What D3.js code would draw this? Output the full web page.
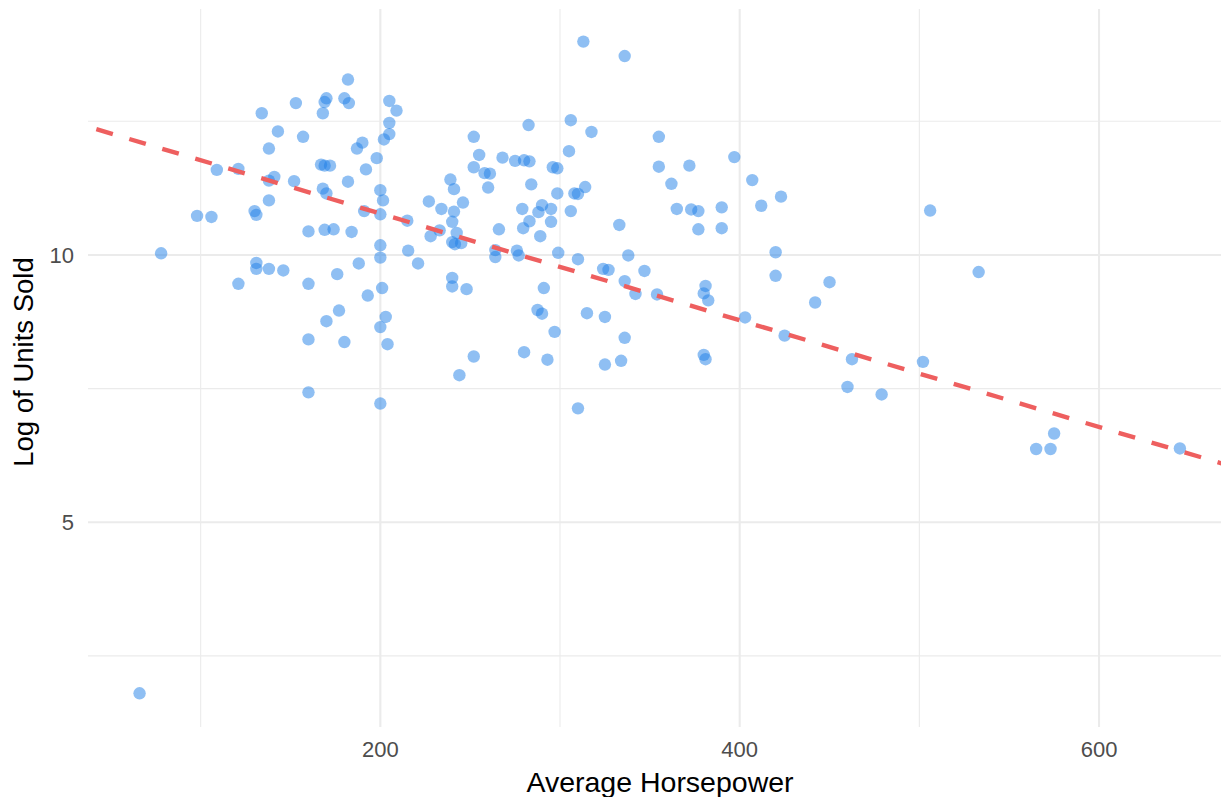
<!DOCTYPE html>
<html>
<head>
<meta charset="utf-8">
<script src="https://cdn.jsdelivr.net/npm/d3@7"></script>
<style>
  body { margin: 0; background: #fff; }
  text { font-family: "Liberation Sans", Arial, sans-serif; }
</style>
</head>
<body>
<div id="wrapper"></div>
<script>
// horsepower / log(units sold) pairs
var horsepower = [
    134, 153, 168, 170, 169, 143, 157, 138, 109, 121, 138, 141, 152, 167, 169, 172, 168, 170, 138, 130,
    131, 98, 106, 160, 169, 174, 78, 131, 131, 138, 146, 121, 160, 170, 160, 160, 66,
    182, 180, 182.5, 205, 209, 205, 205, 202, 190, 187, 198, 192, 182, 200, 201.5, 200, 191, 215, 227,
    234, 241, 240, 239, 241, 246, 252, 255, 252, 258, 261, 260, 268, 275, 280, 283, 282.5, 284, 279, 290,
    288, 295, 295, 298.5, 296, 298.5, 283, 279.5, 266, 184,
    200, 200, 215.5, 221, 188, 176, 193, 201, 177, 203, 200, 180, 204, 200, 228, 233, 242.5, 240, 241.5, 245,
    240, 240, 248, 252, 244, 289, 264, 264, 276, 277, 299, 291, 287.5, 290, 297, 280, 293,
    313, 336, 306, 317.5, 305, 355, 397, 355, 372, 362, 407, 423, 412, 308, 310, 314, 306, 333, 365, 373,
    377, 390, 377, 390,
    310, 324, 327, 338, 347, 336, 342, 354, 381, 380, 382.5, 403, 420, 420, 425, 315, 325, 336, 334,
    325, 380, 381, 310,
    506, 533, 450, 442, 462.5, 502, 460, 479, 575, 565, 573, 645
];
var logUnits = [
    12.65, 12.84, 12.65, 12.93, 12.86, 12.31, 12.21, 11.99, 11.59, 11.61, 11.39, 11.46, 11.38, 11.69, 11.67, 11.67, 11.24, 11.15, 11.02, 10.82,
    10.75, 10.73, 10.71, 10.44, 10.47, 10.48, 10.03, 9.85, 9.74, 9.74, 9.71, 9.46, 9.46, 8.76, 8.42, 7.43, 1.80,
    13.28, 12.93, 12.84, 12.88, 12.70, 12.47, 12.26, 12.16, 12.10, 11.99, 11.81, 11.60, 11.37, 11.21, 11.02, 10.76, 10.82, 10.64, 11.00,
    10.86, 10.81, 10.62, 11.41, 11.23, 10.98, 12.21, 11.87, 11.64, 11.53, 11.52, 11.26, 11.82, 11.76, 11.77, 11.75, 12.43, 11.32, 10.86, 10.93,
    10.80, 10.86, 10.62, 11.15, 11.64, 11.62, 10.63, 10.50, 10.48, 10.43,
    10.18, 9.95, 10.08, 9.84, 9.84, 9.64, 9.24, 9.38, 8.96, 8.84, 8.65, 8.37, 8.33, 7.22, 10.35, 10.46, 10.41, 10.24, 10.20, 10.22,
    9.57, 9.41, 9.36, 8.10, 7.75, 10.35, 10.09, 9.96, 10.08, 9.99, 10.04, 9.38, 8.97, 8.90, 8.56, 8.18, 8.04,
    13.99, 13.72, 12.52, 12.30, 11.94, 12.21, 11.83, 11.65, 11.67, 11.33, 11.40, 11.09, 10.92, 11.15, 11.14, 11.27, 10.82, 10.56, 10.86, 10.85,
    10.82, 10.89, 10.48, 10.50,
    9.92, 9.74, 9.72, 9.99, 9.70, 9.51, 9.27, 9.26, 9.42, 9.28, 9.15, 8.83, 10.05, 9.61, 8.49, 8.91, 8.84, 8.45, 8.02,
    7.95, 8.13, 8.05, 7.13,
    10.83, 9.68, 9.49, 9.11, 8.05, 8.00, 7.53, 7.39, 6.66, 6.37, 6.37, 6.38
];

// fitted line (dashed)
var trendIntercept = 12.77;
var trendSlope = -0.00998;

var xMajor = [200, 400, 600];
var xMinor = [100, 300, 500];
var yMajor = [5, 10];
var yMinor = [2.5, 7.5, 12.5];

var points = horsepower.map(function(h, i) { return {hp: h, lu: logUnits[i]} });

function draw(){
    const parent = d3.select("#wrapper")
    parent.selectAll('*').remove()

    var width = 1221;
    var height = 797;
    var left = 88, right = 1232, top = 9, bottom = 727;

    var svg = parent.append("svg")
        .attr("width", width)
        .attr("height", height)

    var xScaler = d3.scaleLinear()
        .domain([37.3, 674])
        .range([left, right]);
    var yScaler = d3.scaleLinear()
        .domain([1.17, 14.6])
        .range([bottom, top]);

    var grid = svg.append("g").attr("stroke", "#ebebeb")

    grid.selectAll(".xminor").data(xMinor).enter().append("line")
        .attr("x1", d => xScaler(d)).attr("x2", d => xScaler(d))
        .attr("y1", top).attr("y2", bottom)
        .attr("stroke-width", 1.1)
    grid.selectAll(".yminor").data(yMinor).enter().append("line")
        .attr("x1", left).attr("x2", right)
        .attr("y1", d => yScaler(d)).attr("y2", d => yScaler(d))
        .attr("stroke-width", 1.1)
    grid.selectAll(".xmajor").data(xMajor).enter().append("line")
        .attr("x1", d => xScaler(d)).attr("x2", d => xScaler(d))
        .attr("y1", top).attr("y2", bottom)
        .attr("stroke-width", 2.1)
    grid.selectAll(".ymajor").data(yMajor).enter().append("line")
        .attr("x1", left).attr("x2", right)
        .attr("y1", d => yScaler(d)).attr("y2", d => yScaler(d))
        .attr("stroke-width", 2.1)

    svg.append("g")
        .selectAll("circle")
        .data(points)
        .enter().append("circle")
        .attr("cx", d => xScaler(d.hp))
        .attr("cy", d => yScaler(d.lu))
        .attr("r", 6.2)
        .attr("fill", "#1f80e8")
        .attr("fill-opacity", 0.5)

    var x0 = xScaler.domain()[0], x1 = xScaler.domain()[1];
    svg.append("line")
        .attr("x1", xScaler(x0))
        .attr("y1", yScaler(trendIntercept + trendSlope * x0))
        .attr("x2", xScaler(x1))
        .attr("y2", yScaler(trendIntercept + trendSlope * x1))
        .attr("stroke", "#ee5f5f")
        .attr("stroke-width", 4.4)
        .attr("stroke-dasharray", "17.2,17.2")
        .attr("stroke-dashoffset", 25.7)

    // tick labels
    svg.append("g")
        .selectAll("text")
        .data(xMajor)
        .enter().append("text")
        .attr("x", d => xScaler(d))
        .attr("y", 757)
        .attr("text-anchor", "middle")
        .attr("fill", "#4d4d4d")
        .style("font-size", "22px")
        .text(d => d)
    svg.append("g")
        .selectAll("text")
        .data(yMajor)
        .enter().append("text")
        .attr("x", 74)
        .attr("y", d => yScaler(d))
        .attr("dy", "0.36em")
        .attr("text-anchor", "end")
        .attr("fill", "#4d4d4d")
        .style("font-size", "22px")
        .text(d => d)

    // axis titles
    svg.append('text')
        .attr("x", (left + right) / 2)
        .attr("y", 791.5)
        .attr("text-anchor", "middle")
        .style("font-size", "28.5px")
        .text("Average Horsepower")
    svg.append('text')
        .attr("transform", "translate(33.3,362) rotate(-90)")
        .attr("text-anchor", "middle")
        .style("font-size", "27.5px")
        .text("Log of Units Sold")
}
draw()
</script>
</body>
</html>
